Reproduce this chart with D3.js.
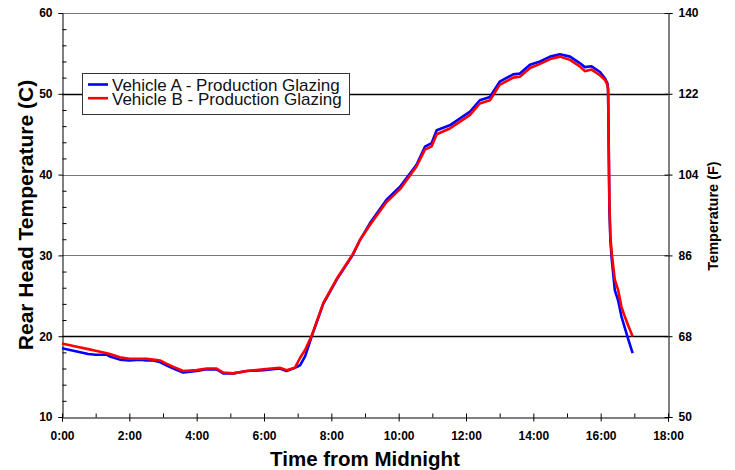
<!DOCTYPE html>
<html>
<head>
<meta charset="utf-8">
<script src="https://cdn.jsdelivr.net/npm/d3@7"></script>
<style>
  body { margin: 0; background: #fff; }
  svg { font-family: "Liberation Sans", Arial, sans-serif; }
  .tick text { font-weight: bold; font-size: 12px; fill: #000; }
</style>
</head>
<body>
<svg width="735" height="470"></svg>
<script>
// hours after midnight
const times = [0, 0.44, 0.78, 1.0, 1.33, 1.42, 1.72, 2.0, 2.32, 2.51, 2.71, 2.91, 3.1, 3.31, 3.6,
  4.0, 4.3, 4.59, 4.79, 5.09, 5.49, 5.98, 6.47, 6.67, 6.92, 7.07, 7.22, 7.42, 7.76, 8.16,
  8.63, 8.85, 9.15, 9.64, 10.04, 10.53, 10.78, 10.98, 11.13, 11.52, 11.77, 12.12, 12.41, 12.71,
  13.0, 13.4, 13.6, 13.9, 14.2, 14.5, 14.79, 15.09, 15.38, 15.53, 15.73, 15.98, 16.13, 16.2,
  16.22, 16.24, 16.26, 16.29, 16.33, 16.42, 16.52, 16.62, 16.72, 16.82, 16.95];

const vehicleA = [18.5, 18.1, 17.8, 17.7, 17.7, 17.5, 17.1, 17.0, 17.1, 17.0, 17.0, 16.8, 16.4, 16.0, 15.5,
  15.7, 15.9, 15.9, 15.4, 15.4, 15.7, 15.8, 16.0, 15.7, 16.1, 16.4, 17.5, 20.0, 24.0, 27.0,
  30.0, 31.9, 34.0, 36.9, 38.5, 41.2, 43.45, 43.9, 45.5, 46.1, 46.8, 47.8, 49.2, 49.6,
  51.5, 52.4, 52.5, 53.6, 54.0, 54.6, 54.9, 54.6, 53.8, 53.3, 53.4, 52.7, 51.9, 51.3,
  50.6, 43.0, 35.5, 31.8, 29.5, 25.7, 24.4, 22.4, 21.0, 19.6, 17.9];

const vehicleB = [19.1, 18.7, 18.4, 18.2, 17.9, 17.8, 17.4, 17.2, 17.2, 17.2, 17.1, 17.0, 16.6, 16.2, 15.7,
  15.8, 16.0, 16.0, 15.5, 15.4, 15.7, 15.9, 16.1, 15.8, 16.1, 17.3, 18.3, 20.1, 24.1, 27.1,
  30.1, 31.9, 33.8, 36.6, 38.2, 41.0, 43.1, 43.5, 45.0, 45.7, 46.4, 47.4, 48.8, 49.2,
  51.1, 52.0, 52.1, 53.2, 53.7, 54.3, 54.6, 54.2, 53.4, 52.8, 53.0, 52.3, 51.7, 51.1,
  50.4, 43.5, 36.5, 32.3, 30.2, 27.0, 25.7, 23.6, 22.4, 21.3, 19.95];

const seriesNames = ["Vehicle A - Production Glazing", "Vehicle B - Production Glazing"];
const seriesColors = ["#0000ff", "#ff0000"];

const celsiusTicks = [10, 20, 30, 40, 50, 60];
const fahrenheitTicks = [50, 68, 86, 104, 122, 140];
const hourTicks = [0, 2, 4, 6, 8, 10, 12, 14, 16, 18];

const plotLeft = 62, plotRight = 668, plotTop = 13, plotBottom = 417;

const svg = d3.select("svg");

const x = d3.scaleLinear().domain([0, 18]).range([plotLeft, plotRight]);
const y = d3.scaleLinear().domain([10, 60]).range([plotBottom, plotTop]);
const yF = d3.scaleLinear().domain([50, 140]).range([plotBottom, plotTop]);

// horizontal grid lines
svg.append("g")
  .selectAll("line")
  .data(celsiusTicks.filter(d => d > 10))
  .join("line")
  .attr("x1", plotLeft)
  .attr("x2", plotRight)
  .attr("y1", d => Math.round(y(d)) + 0.5)
  .attr("y2", d => Math.round(y(d)) + 0.5)
  .attr("stroke", d => (d === 20 || d === 50) ? "#000" : "#777")
  .attr("stroke-width", d => (d === 20 || d === 50) ? 1.3 : 1.2);

// left axis: major ticks outward, minor ticks inward
svg.append("g")
  .attr("transform", `translate(${plotLeft + 0.5},0)`)
  .call(d3.axisLeft(y).tickValues(celsiusTicks).tickSize(4).tickPadding(6).tickFormat(d3.format("d")))
  .call(g => g.select(".domain").attr("stroke", "#000"));

svg.append("g")
  .attr("transform", `translate(${plotLeft + 0.5},0)`)
  .call(d3.axisRight(y).tickValues(d3.range(12, 60, 2).filter(d => d % 10 !== 0)).tickSize(4).tickFormat(""))
  .call(g => g.select(".domain").remove());

// bottom axis: major ticks crossing, minor ticks inward
svg.append("g")
  .attr("transform", `translate(0,${plotBottom + 0.5})`)
  .call(d3.axisBottom(x).tickValues(hourTicks).tickSize(4).tickPadding(10).tickFormat(d => d + ":00"))
  .call(g => g.select(".domain").attr("stroke", "#000"));

svg.append("g")
  .attr("transform", `translate(0,${plotBottom + 0.5})`)
  .call(d3.axisTop(x).tickValues(d3.range(0, 19, 1)).tickSize(4).tickFormat(""))
  .call(g => g.select(".domain").remove());

// right axis in Fahrenheit, ticks crossing
svg.append("g")
  .attr("transform", `translate(${plotRight + 0.5},0)`)
  .call(d3.axisRight(yF).tickValues(fahrenheitTicks).tickSize(4).tickPadding(6).tickFormat(d3.format("d")))
  .call(g => g.select(".domain").attr("stroke", "#000"));

svg.append("g")
  .attr("transform", `translate(${plotRight + 0.5},0)`)
  .call(d3.axisLeft(yF).tickValues(fahrenheitTicks).tickSize(4).tickFormat(""))
  .call(g => g.select(".domain").remove());

// the two curves
const line = d3.line()
  .x(d => x(d[0]))
  .y(d => y(d[1]));

[vehicleA, vehicleB].forEach((vals, i) => {
  svg.append("path")
    .datum(times.map((t, j) => [t, vals[j]]))
    .attr("fill", "none")
    .attr("stroke", seriesColors[i])
    .attr("stroke-width", 2.6)
    .attr("stroke-linejoin", "round")
    .attr("d", line);
});

// legend
const legend = svg.append("g").attr("transform", "translate(82,73)");
legend.append("rect")
  .attr("x", 0.5).attr("y", 0.5)
  .attr("width", 267).attr("height", 41)
  .attr("fill", "#fff")
  .attr("stroke", "#333");

seriesNames.forEach((name, i) => {
  const ly = 11.5 + i * 13.7;
  legend.append("line")
    .attr("x1", 6).attr("x2", 26)
    .attr("y1", ly).attr("y2", ly)
    .attr("stroke", seriesColors[i])
    .attr("stroke-width", 2.6);
  legend.append("text")
    .attr("x", 30)
    .attr("y", ly + 6.3)
    .attr("font-size", 17)
    .attr("fill", "#111")
    .text(name);
});

// axis titles
svg.append("text")
  .attr("x", (plotLeft + plotRight) / 2)
  .attr("y", 466)
  .attr("text-anchor", "middle")
  .attr("font-size", 20.5)
  .attr("font-weight", "bold")
  .text("Time from Midnight");

svg.append("text")
  .attr("transform", `translate(33,${(plotTop + plotBottom) / 2}) rotate(-90)`)
  .attr("text-anchor", "middle")
  .attr("font-size", 21)
  .attr("font-weight", "bold")
  .text("Rear Head Temperature (C)");

svg.append("text")
  .attr("transform", `translate(717.5,${(plotTop + plotBottom) / 2 + 1}) rotate(-90)`)
  .attr("text-anchor", "middle")
  .attr("font-size", 14.5)
  .attr("font-weight", "bold")
  .text("Temperature (F)");
</script>
</body>
</html>
